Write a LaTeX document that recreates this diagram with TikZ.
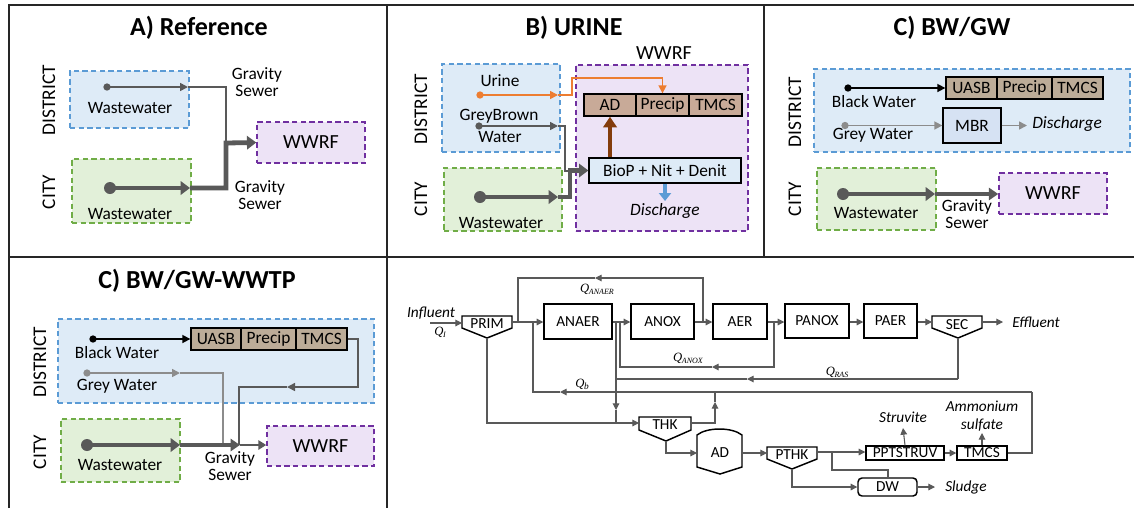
\documentclass[tikz,border=0pt]{standalone}
\usepackage{fontspec}
\setmainfont{Carlito}
\newfontfamily\qserif{Liberation Serif}
\usetikzlibrary{arrows.meta,fit}
\definecolor{dg}{RGB}{89,89,89}
\definecolor{lg}{RGB}{140,140,140}
\definecolor{bfill}{RGB}{222,235,247}
\definecolor{bdraw}{RGB}{91,155,213}
\definecolor{gfill}{RGB}{226,240,217}
\definecolor{gdraw}{RGB}{112,173,71}
\definecolor{pfill}{RGB}{237,227,246}
\definecolor{pdraw}{RGB}{112,48,160}
\definecolor{brB}{RGB}{200,170,152}
\definecolor{brC}{RGB}{188,172,152}
\definecolor{orng}{RGB}{237,125,49}
\definecolor{dbrown}{RGB}{132,60,12}
\definecolor{mbrfill}{RGB}{214,226,243}
\newcommand\Qsub[1]{{\fontsize{9.5}{9}\selectfont\qserif\itshape Q}\kern-0.3pt\raisebox{-1.6pt}{\fontsize{6}{6}\selectfont\qserif\itshape #1}}
\begin{document}
\begin{tikzpicture}[x=0.75pt,y=-0.75pt,
  panelline/.style={draw=black!85, line width=1.3pt},
  dbox/.style={dashed, dash pattern=on 4pt off 2.5pt, line width=1.1pt, inner sep=0pt},
  bluebox/.style={dbox, draw=bdraw, fill=bfill},
  greenbox/.style={dbox, draw=gdraw, fill=gfill},
  purplebox/.style={dbox, draw=pdraw, fill=pfill},
  wtxt/.style={font=\fontsize{15}{15}\selectfont, inner sep=0pt},
  brownB/.style={draw=black, line width=1pt, fill=brB, inner sep=0pt},
  brownC/.style={draw=black, line width=1pt, fill=brC, inner sep=0pt},
  btxt/.style={font=\fontsize{13}{13}\selectfont, inner sep=0pt},
  ttl/.style={font=\fontsize{19.5}{22}\selectfont\bfseries},
  side/.style={rotate=90, font=\fontsize{14.5}{15}\selectfont},
  lbl/.style={font=\fontsize{13}{12.5}\selectfont, align=center, inner sep=0pt},
  dotS/.style={circle, fill=#1, inner sep=0pt, minimum size=5.5pt},
  dotS/.default=dg,
  dotL/.style={circle, fill=dg, inner sep=0pt, minimum size=9pt},
  wire/.style={draw=#1, line width=1.2pt},
  wire/.default=dg,
  tharr/.style={-{Triangle[length=6pt,width=6pt]}},
  fat/.style={draw=dg, line width=3.6pt},
  thkarr/.style={-{Triangle[length=7pt,width=10pt]}},
  fl/.style={draw=dg, line width=0.8pt},
  flarr/.style={-{Triangle[length=5pt,width=5pt]}},
  fbox/.style={draw=black, line width=1.1pt, inner sep=0pt},
  ftxt/.style={font=\fontsize{11.5}{12}\selectfont, inner sep=0pt},
  fital/.style={font=\fontsize{11.5}{13}\selectfont\itshape, inner sep=0pt, align=center},
  shp/.style={draw=black, line width=1.1pt}
]
\useasboundingbox (0,0) rectangle (1134,508);
\fill[white] (0,0) rectangle (1134,508);

% panel borders
\draw[panelline] (9,508) -- (9,5) -- (1134,5);
\draw[panelline] (387,5) -- (387,508);
\draw[panelline] (764,5) -- (764,257);
\draw[panelline] (9,257) -- (1134,257);

% ================= Panel A
\node[ttl] (tA) at (199,28) {A) Reference};
\node[side] (sA1) at (49,100) {DISTRICT};
\node[side] (sA2) at (49,192) {CITY};
\node[fit={(70,71)(189,128)}, bluebox] (aD) {};
\node[fit={(72,159)(191,223)}, greenbox] (aC) {};
\node[fit={(257,122)(365,163)}, purplebox] (aW) {};
\node[wtxt] (aWt) at (aW.center) {WWRF};
\node[lbl] (aT1) at (130,108) {Wastewater};
\node[lbl] (aT2) at (130,214) {Wastewater};
\node[lbl] (aG1) at (257,82) {Gravity\\Sewer};
\node[lbl] (aG2) at (260,195) {Gravity\\Sewer};
\node[dotS] (aDd) at (107,87) {};
\coordinate (aDe) at (188,87);
\node[dotL] (aCd) at (110,188) {};
\coordinate (aCe) at (190,188);
\coordinate (aJ) at (226,143);
\draw[wire, tharr] (aDd.center) -- (aDe);
\draw[wire] (aDe) -| (aJ);
\draw[fat, thkarr] (aCd.center) -- (aCe);
\draw[fat, thkarr] (aCe) -| (aJ) -- (aW.west);

% ================= Panel B
\node[ttl] (tB) at (574,28) {B) URINE};
\node[side] (sB1) at (421,109) {DISTRICT};
\node[side] (sB2) at (421,199) {CITY};
\node[fit={(442,64)(560,152)}, bluebox] (bD) {};
\node[fit={(444,168)(562,231)}, greenbox] (bC) {};
\node[fit={(576,65)(748,231)}, purplebox] (bW) {};
\node[wtxt] (bWl) at (664,53) {WWRF};
\node[fit={(584,94)(636,116)}, brownB] (bAD) {};
\node[fit={(636,94)(689,116)}, brownB] (bPr) {};
\node[fit={(689,94)(742,116)}, brownB] (bTM) {};
\node[btxt] (bADt) at (bAD.center) {AD};
\node[btxt] (bPrt) at (bPr.center) {Precip};
\node[btxt] (bTMt) at (bTM.center) {TMCS};
\node[fit={(589,158)(741,183)}, draw=black, line width=1pt, fill=bfill, inner sep=0pt] (bBio) {};
\node[btxt] (bBiot) at (bBio.center) {BioP + Nit + Denit};
\node[lbl] (bUl) at (500,81) {Urine};
\node[lbl] (bGl) at (499,116) {GreyBrown};
\node[lbl] (bGl2) at (500,137) {Water};
\node[lbl] (bCl) at (501,223) {Wastewater};
\node[lbl, font=\fontsize{13}{13}\selectfont\itshape] (bDis) at (665,211) {Discharge};
% urine
\node[dotS=orng] (bUd) at (480,95) {};
\coordinate (bUe) at (558,95);
\coordinate (bU1) at (572,95);
\coordinate (bU2) at (572,78);
\draw[wire=orng, tharr] (bUd.center) -- (bUe);
\draw[wire=orng, tharr] (bUe) -- (bU1) -- (bU2) -| (bPr.north);
% greybrown
\node[dotS] (bGd) at (479,126) {};
\coordinate (bGe) at (558,126);
\coordinate (bG1) at (565,126);
\coordinate (bG2) at (565,171);
\coordinate (bG3) at (572,171);
\draw[wire, tharr] (bGd.center) -- (bGe);
\draw[wire] (bGe) -- (bG1) -- (bG2) -- (bG3);
% wastewater
\node[dotL] (bCd) at (480,197) {};
\coordinate (bCe) at (558,197);
\coordinate (bC1) at (570,197);
\coordinate (bC2) at (570,170.5);
\draw[fat, thkarr] (bCd.center) -- (bCe);
\draw[fat, thkarr] (bCe) -- (bC1) -- (bC2) -- (bBio.west);
\draw[draw=dbrown, line width=3.6pt, -{Triangle[length=8pt,width=10pt]}] (bAD.south |- bBio.north) -- (bAD.south);
\coordinate (bDe) at (665,201);
\draw[draw=bdraw, line width=3pt, -{Triangle[length=6pt,width=9pt]}] (bBio.south) -- (bDe);

% ================= Panel C (top right)
\node[ttl] (tC) at (952,28) {C) BW/GW};
\node[side] (sC1) at (795,112) {DISTRICT};
\node[side] (sC2) at (795,199) {CITY};
\node[fit={(814,69)(1130,152)}, bluebox] (cD) {};
\node[fit={(817,168)(936,230)}, greenbox] (cC) {};
\node[fit={(999,173)(1107,214)}, purplebox] (cW) {};
\node[wtxt] (cWt) at (cW.center) {WWRF};
\node[fit={(946,77)(997,99)}, brownC] (cUA) {};
\node[fit={(997,77)(1052,99)}, brownC] (cPr) {};
\node[fit={(1052,77)(1103,99)}, brownC] (cTM) {};
\node[btxt] (cUAt) at (cUA.center) {UASB};
\node[btxt] (cPrt) at (cPr.center) {Precip};
\node[btxt] (cTMt) at (cTM.center) {TMCS};
\node[fit={(943,108)(1001,143)}, draw=black, line width=1pt, fill=mbrfill, inner sep=0pt] (cMBR) {};
\node[btxt] (cMBRt) at (cMBR.center) {MBR};
\node[lbl] (cBl) at (874,102) {Black Water};
\node[lbl] (cGl) at (873,135) {Grey Water};
\node[lbl] (cCl) at (876,213) {Wastewater};
\node[lbl] (cGS) at (967,214) {Gravity\\Sewer};
\node[lbl, font=\fontsize{13}{13}\selectfont\itshape, anchor=west] (cDis) at (1032,124) {Discharge};
\node[dotS=black] (cBd) at (848,88) {};
\draw[wire=black, tharr] (cBd.center) -- (cUA.west);
\node[dotS=lg] (cGd) at (845,125.5) {};
\draw[wire=lg, tharr] (cGd.center) -- (cMBR.west);
\coordinate (cMe) at (1027,125.5);
\draw[wire=lg, tharr] (cMBR.east) -- (cMe);
\node[dotL] (cCd) at (843,194) {};
\coordinate (cCe) at (935,194);
\draw[fat, thkarr] (cCd.center) -- (cCe);
\draw[draw=dg, line width=3pt, -{Triangle[length=7pt,width=9pt]}] (cCe) -- (cW.west |- cCe);

% ================= Panel C BW/GW-WWTP (bottom left)
\node[ttl] (tD) at (197,281) {C) BW/GW-WWTP};
\node[side] (sD1) at (40,362) {DISTRICT};
\node[side] (sD2) at (40,452) {CITY};
\node[fit={(58,319)(374,403)}, bluebox] (dD) {};
\node[fit={(61,419)(180,482)}, greenbox] (dC) {};
\node[fit={(267,426)(374,466)}, purplebox] (dW) {};
\node[wtxt] (dWt) at (dW.center) {WWRF};
\node[fit={(191,328)(241,350)}, brownC] (dUA) {};
\node[fit={(241,328)(296,350)}, brownC] (dPr) {};
\node[fit={(296,328)(347,350)}, brownC] (dTM) {};
\node[btxt] (dUAt) at (dUA.center) {UASB};
\node[btxt] (dPrt) at (dPr.center) {Precip};
\node[btxt] (dTMt) at (dTM.center) {TMCS};
\node[lbl] (dBl) at (117,353) {Black Water};
\node[lbl] (dGl) at (117,386) {Grey Water};
\node[lbl] (dCl) at (120,465) {Wastewater};
\node[lbl] (dGS) at (230,466) {Gravity\\Sewer};
\node[dotS=black] (dBd) at (93,339) {};
\draw[wire=black, tharr] (dBd.center) -- (dUA.west);
\node[dotS=lg] (dGd) at (87,373) {};
\coordinate (dGe) at (180,373);
\coordinate (dG1) at (223,373);
\coordinate (dG2) at (223,445);
\draw[wire=lg, tharr] (dGd.center) -- (dGe);
\draw[wire=lg] (dGe) -- (dG1) -- (dG2);
\coordinate (dR1) at (358,339);
\coordinate (dR2) at (358,387);
\coordinate (dR3) at (287,387);
\coordinate (dR4) at (239,387);
\coordinate (dR5) at (239,445);
\draw[wire, tharr] (dTM.east) -- (dR1) -- (dR2) -- (dR3);
\draw[wire] (dR3) -- (dR4) -- (dR5);
\node[dotL] (dCd) at (87,445) {};
\coordinate (dCe) at (180,445);
\coordinate (dJ) at (240,445);
\draw[fat, thkarr] (dCd.center) -- (dCe);
\draw[draw=dg, line width=3pt, -{Triangle[length=7pt,width=9pt]}] (dCe) -- (dJ);
\draw[draw=dg, line width=1.6pt, -{Triangle[length=6pt,width=7pt]}] (dJ) -- (dW.west |- dJ);

% ================= Flowsheet
\draw[shp] (462,316) -- (512,316) -- (512,328) -- (487,338) -- (462,328) -- cycle;
\node[ftxt] (fPRIM) at (487,324) {PRIM};
\draw[shp] (932,316) -- (982,316) -- (982,328) -- (958,338) -- (932,328) -- cycle;
\node[ftxt] (fSEC) at (957,325) {SEC};
\draw[shp] (639,417) -- (691,417) -- (691,430) -- (666,441) -- (639,430) -- cycle;
\node[ftxt] (fTHK) at (665,425) {THK};
\draw[shp] (697,467) -- (697,435) .. controls (707,427) and (732,427) .. (742,435) -- (742,467) -- (720,474) -- cycle;
\node[ftxt] (fAD) at (720,453) {AD};
\draw[shp] (767,447) -- (817,447) -- (817,459) -- (792,469) -- (767,459) -- cycle;
\node[ftxt] (fPTHK) at (792,455) {PTHK};

\node[fit={(544,304)(612,339)}, fbox] (fANAER) {};
\node[fit={(631,304)(694,339)}, fbox] (fANOX) {};
\node[fit={(713,304)(767,339)}, fbox] (fAER) {};
\node[fit={(785,304)(849,338)}, fbox] (fPANOX) {};
\node[fit={(864,304)(917,338)}, fbox] (fPAER) {};
\node[fit={(866,446)(944,460)}, fbox] (fPPT) {};
\node[fit={(957,446)(1007,460)}, fbox] (fTMCS) {};
\node[fit={(858,478)(917,496)}, fbox, rounded corners=3pt] (fDW) {};
\node[ftxt] (fANAERt) at (fANAER.center) {ANAER};
\node[ftxt] (fANOXt) at (fANOX.center) {ANOX};
\node[ftxt] (fAERt) at (fAER.center) {AER};
\node[ftxt] (fPANOXt) at (fPANOX.center) {PANOX};
\node[ftxt] (fPAERt) at (fPAER.center) {PAER};
\node[ftxt] (fPPTt) at (fPPT.center) {PPTSTRUV};
\node[ftxt] (fTMCSt) at (fTMCS.center) {TMCS};
\node[ftxt] (fDWt) at (fDW.center) {DW};

\node[fital] (fInf) at (431,313) {Influent};
\node[inner sep=0pt] (fQI) at (440,332) {\Qsub{I}};
\node[fital, anchor=west] (fEff) at (1012,322) {Effluent};
\node[fital, anchor=west] (fSlu) at (945,487) {Sludge};
\node[fital] (fStr) at (903,417) {Struvite};
\node[fital] (fAmm) at (982,416) {Ammonium\\sulfate};
\node[inner sep=0pt] (fQan) at (597,289) {\Qsub{ANAER}};
\node[inner sep=0pt] (fQax) at (688,358) {\Qsub{ANOX}};
\node[inner sep=0pt] (fQras) at (837,372) {\Qsub{RAS}};
\node[inner sep=0pt] (fQb) at (582,384) {{\fontsize{9.5}{9}\selectfont\qserif\itshape Q}\kern-0.3pt\raisebox{-1.6pt}{\fontsize{7}{7}\selectfont\qserif\itshape b}};

% coordinates
\coordinate (pIn) at (430,323);
\coordinate (pPi) at (462,323);
\coordinate (pPo) at (512,322);
\coordinate (pPb) at (487,338);
\coordinate (j1) at (518,322);
\coordinate (j2) at (533,322);
\coordinate (qa1) at (518,278);
\coordinate (qa2) at (703,278);
\coordinate (qaM) at (595,278);
\coordinate (qa3) at (703,322);
\coordinate (j3) at (616,322);
\coordinate (j4) at (620,322);
\coordinate (qx1) at (774,322);
\coordinate (qx2) at (774,367);
\coordinate (qxM) at (712,367);
\coordinate (qx3) at (620,367);
\coordinate (sIn) at (932,322);
\coordinate (sOut) at (982,322);
\coordinate (sEff) at (1003,322);
\coordinate (sBot) at (958,338);
\coordinate (qr1) at (958,379);
\coordinate (qrM) at (747,379);
\coordinate (qr2) at (616,379);
\coordinate (wM) at (616,410);
\coordinate (w2) at (616,423);
\coordinate (ps1) at (487,423);
\coordinate (tIn) at (639,423);
\coordinate (tOut) at (691,423);
\coordinate (ts1) at (715,423);
\coordinate (tsM) at (715,402);
\coordinate (ts2) at (715,392);
\coordinate (tBot) at (666,441);
\coordinate (tb1) at (666,453);
\coordinate (adIn) at (697,453);
\coordinate (adOut) at (742,453);
\coordinate (ptIn) at (767,453);
\coordinate (ptOut) at (817,452);
\coordinate (ptj) at (832,452);
\coordinate (ptj2) at (832,470);
\coordinate (ptj3) at (888,470);
\coordinate (ptBot) at (792,469);
\coordinate (ptb1) at (792,487);
\coordinate (dwOut) at (935,487);
\coordinate (strT) at (903,428);
\coordinate (ammT) at (982,433);
\coordinate (tm1) at (1032,453);
\coordinate (qb0) at (1032,392);
\coordinate (qbM) at (560,392);
\coordinate (qb2) at (533,392);

\draw[fl, flarr] (pIn) -- (pPi);
\draw[fl, flarr] (pPo) -- (fANAER.west |- pPo);
\draw[fl, flarr] (fANAER.east |- j3) -- (fANOX.west |- j3);
\draw[fl, flarr] (fANOX.east |- j3) -- (fAER.west |- j3);
\draw[fl, flarr] (fAER.east |- j3) -- (fPANOX.west |- j3);
\draw[fl, flarr] (fPANOX.east |- j3) -- (fPAER.west |- j3);
\draw[fl, flarr] (fPAER.east |- j3) -- (sIn);
\draw[fl, flarr] (sOut) -- (sEff);
\draw[fl, flarr] (qa3) -- (qa2) -- (qaM);
\draw[fl] (qaM) -- (qa1) -- (j1);
\draw[fl, flarr] (qx1) -- (qx2) -- (qxM);
\draw[fl] (qxM) -- (qx3) -- (j4);
\draw[fl] (sBot) -- (qr1);
\draw[fl, flarr] (qr1) -- (qrM);
\draw[fl] (qrM) -- (qr2) -- (j3);
\draw[fl, flarr] (qr2) -- (wM);
\draw[fl] (wM) -- (w2);
\draw[fl, flarr] (pPb) -- (ps1) -- (tIn);
\draw[fl, flarr] (tOut) -- (ts1) -- (tsM);
\draw[fl] (tsM) -- (ts2);
\draw[fl] (fTMCS.east |- tm1) -- (tm1) -- (qb0);
\draw[fl, flarr] (qb0) -- (qbM);
\draw[fl] (qbM) -- (qb2) -- (j2);
\draw[fl, flarr] (tBot) -- (tb1) -- (adIn);
\draw[fl, flarr] (adOut) -- (ptIn);
\draw[fl, flarr] (ptOut) -- (fPPT.west |- ptOut);
\draw[fl] (ptj) -- (ptj2) -- (ptj3) -- (fDW.north -| ptj3);
\draw[fl, flarr] (ptBot) -- (ptb1) -- (fDW.west);
\draw[fl, flarr] (fDW.east) -- (dwOut);
\draw[fl, flarr] (fPPT.east) -- (fTMCS.west |- fPPT.east);
\draw[fl, flarr] (fPPT.north) -- (strT);
\draw[fl, flarr] (fTMCS.north) -- (ammT);
\end{tikzpicture}
\end{document}
